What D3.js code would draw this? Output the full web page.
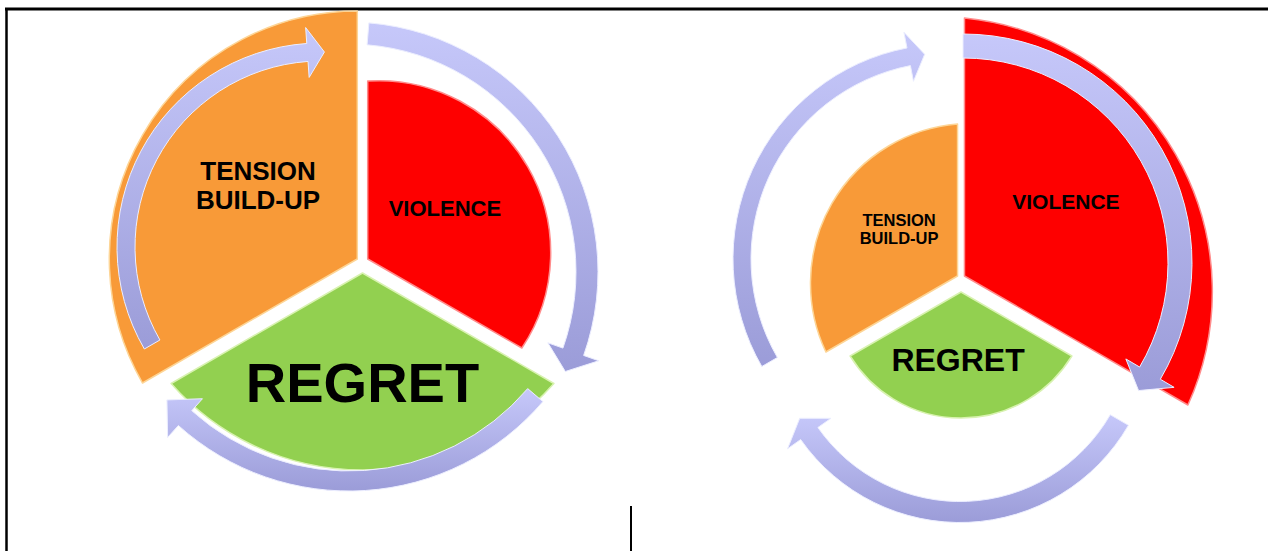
<!DOCTYPE html>
<html>
<head>
<meta charset="utf-8">
<script src="https://cdnjs.cloudflare.com/ajax/libs/d3/7.8.5/d3.min.js"></script>
<style>
body { margin: 0; background: #fff; }
svg { display: block; }
</style>
</head>
<body>
<script>
// the three phases of the cycle
phases = [["TENSION", "BUILD-UP"], ["VIOLENCE"], ["REGRET"]]
phaseShare = [1, 1, 1]
phaseColors = ["#f89a38", "#fe0000", "#92d050"]
phaseEdge = ["#fdd596", "#ff8c8c", "#d8f2b0"]

// left picture: how far each wedge reaches, and the radius of its outer edge
leftReach = [248, 178, 221]
leftArc = [248, 172, 255]
leftGap = [6, 6, 11]
leftFont = [26, 22, 56]
// right picture
rightReach = [152, 258, 128]
rightArc = [160, 275, 130]
rightGap = [4, 4, 14]
rightFont = [16.5, 21, 32]

// arrows, degrees clockwise from 12 o'clock
leftArrowStart = [-120, 4.8, 130.5]
leftArrowBase = [-4, 109.5, 222]
leftArrowTip = [1, 114.6, 228]
leftArrowRadius = [195, 239, 245]
leftArrowWidth = [18, 22, 20]
rightArrowStart = [-120, 0, 120]
rightArrowBase = [-11, 120.5, 235]
rightArrowTip = [-6.5, 126, 240.6]
rightArrowRadius = [206, 217, 184]
rightArrowWidth = [18, 24, 21]

W = 1268
H = 551
rad = Math.PI / 180

svg = d3.select("body").append("svg").attr("width", W).attr("height", H)

defs = svg.append("defs")
g1 = defs.append("linearGradient").attr("id", "arrowGrad").attr("x1", 0).attr("y1", 0).attr("x2", 0).attr("y2", 1)
g1.append("stop").attr("offset", "0%").attr("stop-color", "#c6c8fa")
g1.append("stop").attr("offset", "100%").attr("stop-color", "#9b9cd8")

// frame lines
svg.append("line").attr("x1", 5).attr("x2", W).attr("y1", 9).attr("y2", 9).attr("stroke", "#000").attr("stroke-width", 3)
svg.append("line").attr("x1", 6.5).attr("x2", 6.5).attr("y1", 8).attr("y2", H).attr("stroke", "#000").attr("stroke-width", 2.5)
svg.append("line").attr("x1", 631).attr("x2", 631).attr("y1", 506).attr("y2", H).attr("stroke", "#000").attr("stroke-width", 2)

pie = d3.pie().sort(null).startAngle(-2 * Math.PI / 3).endAngle(4 * Math.PI / 3)

function add(p, q) { return [p[0] + q[0], p[1] + q[1]] }

function wedgePath(apex, a0, a1, reach, arcR) {
    var p0 = add(apex, d3.pointRadial(a0, reach))
    var p1 = add(apex, d3.pointRadial(a1, reach))
    return "M" + apex + "L" + p0 + "A" + arcR + "," + arcR + " 0 0 1 " + p1 + "Z"
}

function arrowPath(c, r, w, a0, aB, aT, hh) {
    var p = d3.path()
    var m = function(a) { return (a - 90) * rad }
    var pt = function(a, rr) { return add(c, d3.pointRadial(a * rad, rr)) }
    var ro = r + w / 2, ri = r - w / 2
    var s = pt(a0, ro)
    p.moveTo(s[0], s[1])
    p.arc(c[0], c[1], ro, m(a0), m(aB), false)
    var w1 = pt(aB, r + hh), t = pt(aT, r), w2 = pt(aB, r - hh), b = pt(aB, ri)
    p.lineTo(w1[0], w1[1])
    p.lineTo(t[0], t[1])
    p.lineTo(w2[0], w2[1])
    p.lineTo(b[0], b[1])
    p.arc(c[0], c[1], ri, m(aB), m(a0), true)
    p.closePath()
    return p.toString()
}

function drawCycle(opt) {
    var g = svg.append("g")
    var slices = pie(phaseShare)

    slices.forEach(function(s, i) {
        var mid = (s.startAngle + s.endAngle) / 2
        s.apex = add(opt.center, d3.pointRadial(mid, opt.gap[i]))
    })

    g.selectAll("path.wedge").data(slices).enter().append("path")
        .classed("wedge", true)
        .attr("d", function(s, i) { return wedgePath(s.apex, s.startAngle, s.endAngle, opt.reach[i], opt.arc[i]) })
        .attr("fill", function(s, i) { return phaseColors[i] })
        .attr("stroke", function(s, i) { return phaseEdge[i] })
        .attr("stroke-width", 1.5)
        .attr("stroke-linejoin", "round")

    for (var k = 0; k < 3; k++) {
        g.append("path")
            .attr("d", arrowPath(opt.arrowCenters[k], opt.arrowRadius[k], opt.arrowWidth[k],
                opt.arrowStart[k], opt.arrowBase[k], opt.arrowTip[k], opt.arrowWidth[k] * 0.5 + 16))
            .attr("fill", "url(#arrowGrad)")
            .attr("stroke", "#eceeff")
            .attr("stroke-width", 1)
    }

    slices.forEach(function(s, i) {
        var pos = add(s.apex, d3.pointRadial(opt.labelAngle[i] * rad, opt.labelDist[i]))
        var f = opt.font[i]
        var lines = phases[i]
        var lh = f * 1.12
        var first = pos[1] - (lines.length - 1) * lh / 2 + 0.358 * f
        var t = g.append("text")
            .attr("text-anchor", "middle")
            .attr("font-family", "'Liberation Sans', Arial, sans-serif")
            .attr("font-weight", "bold")
            .attr("font-size", f)
            .attr("fill", "#000")
        lines.forEach(function(l, j) {
            t.append("tspan").attr("x", pos[0]).attr("y", first + j * lh).text(l)
        })
    })
}

drawCycle({
    center: [362.5, 262], gap: leftGap,
    reach: leftReach, arc: leftArc, font: leftFont,
    labelAngle: [-53.3, 56.8, 180], labelDist: [123.8, 92.3, 109],
    arrowCenters: [[321, 247], [348, 272], [349, 236]],
    arrowRadius: leftArrowRadius, arrowWidth: leftArrowWidth,
    arrowStart: leftArrowStart, arrowBase: leftArrowBase, arrowTip: leftArrowTip
})

drawCycle({
    center: [961, 278], gap: rightGap,
    reach: rightReach, arc: rightArc, font: rightFont,
    labelAngle: [-51.2, 53.7, 182.5], labelDist: [75, 125.9, 67.6],
    arrowCenters: [[948, 259], [963, 263], [960, 328]],
    arrowRadius: rightArrowRadius, arrowWidth: rightArrowWidth,
    arrowStart: rightArrowStart, arrowBase: rightArrowBase, arrowTip: rightArrowTip
})
</script>
</body>
</html>
